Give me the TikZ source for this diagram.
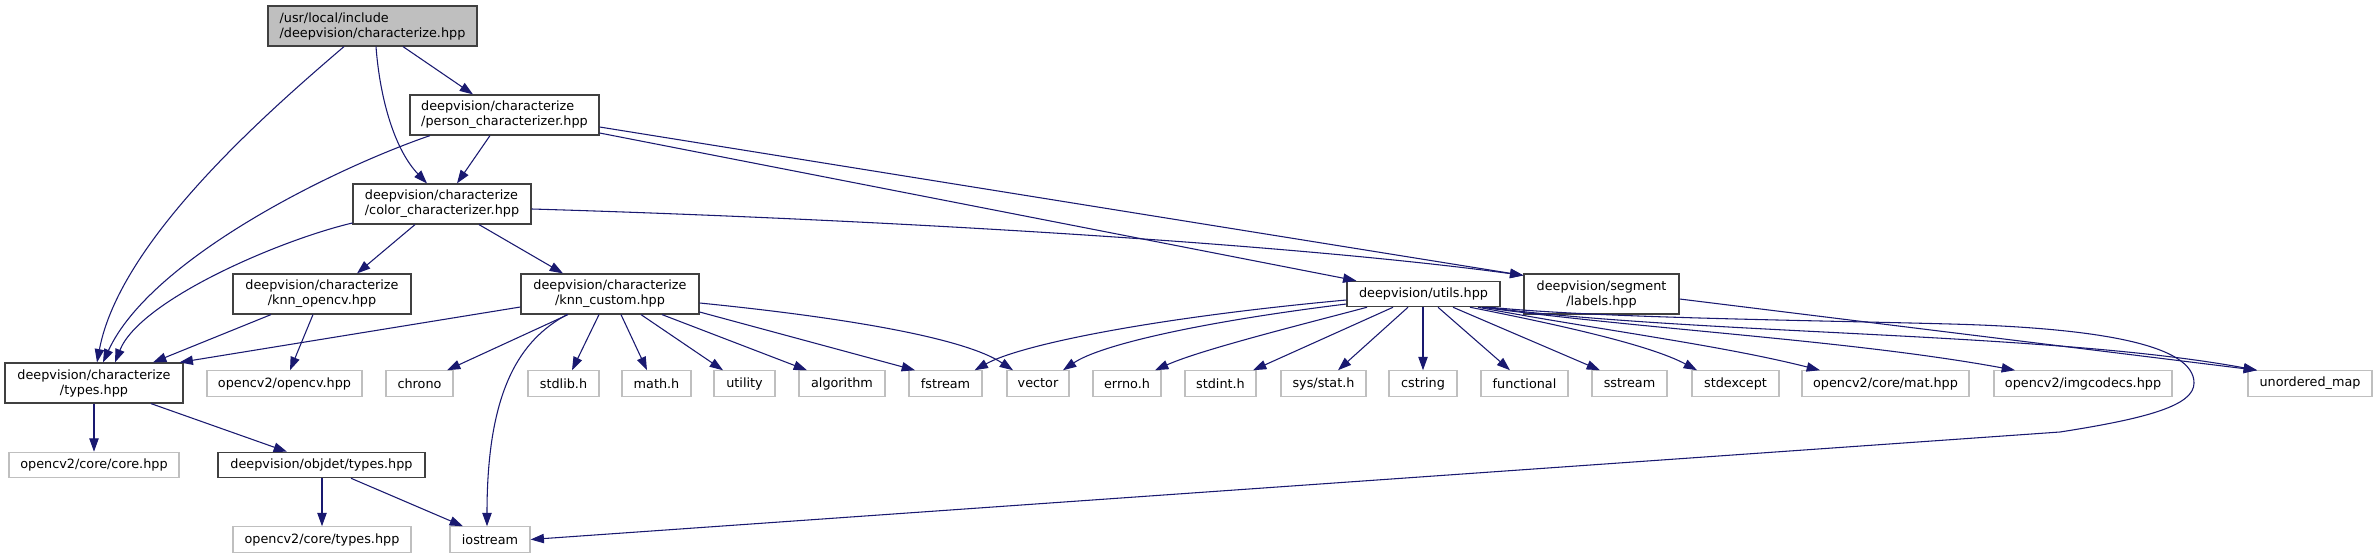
\documentclass[tikz,border=0pt]{standalone}
\usepackage{fontspec}
\setmainfont{DejaVu Sans}
\usetikzlibrary{arrows.meta,calc}
\definecolor{edgecol}{HTML}{191970}
\definecolor{docborder}{HTML}{404040}
\definecolor{extborder}{HTML}{BFBFBF}
\definecolor{rootfill}{HTML}{BFBFBF}
\tikzset{
  base/.style={rectangle, inner sep=0pt, line width=0.9pt, font=\fontsize{9.6}{11.25}\selectfont},
  doc/.style={base, draw=docborder, fill=white},
  ext/.style={base, draw=extborder, fill=white},
  rootn/.style={base, draw=docborder, fill=rootfill},
  tall/.style={minimum height=30pt},
  short/.style={minimum height=19pt},
  dep/.style={draw=edgecol, line width=0.8pt, -{Triangle[length=10pt,width=7pt]}}
}
\begin{document}
\begin{tikzpicture}[x=0.75pt,y=-0.75pt]
\useasboundingbox (0,0) rectangle (2377,559);
\fill[white] (0,0) rectangle (2377,559);
% documented nodes
\node[rootn,tall,minimum width=156.75pt,align=left] (root) at (372.5,26) {/usr/local/include\\/deepvision/characterize.hpp};
\node[doc,tall,minimum width=141.75pt,align=left] (person) at (504.5,115) {deepvision/characterize\\/person\_characterizer.hpp};
\node[doc,tall,minimum width=133.5pt,align=left] (color) at (442,204) {deepvision/characterize\\/color\_characterizer.hpp};
\node[doc,tall,minimum width=133.5pt,align=center] (knnocv) at (322,294) {deepvision/characterize\\/knn\_opencv.hpp};
\node[doc,tall,minimum width=133.5pt,align=center] (knncus) at (610,294) {deepvision/characterize\\/knn\_custom.hpp};
\node[doc,tall,minimum width=133.5pt,align=center] (types) at (94,383) {deepvision/characterize\\/types.hpp};
\node[doc,short,minimum width=114.75pt] (utils) at (1423.5,294) {deepvision/utils.hpp};
\node[doc,tall,minimum width=116.25pt,align=center] (labels) at (1601.5,294) {deepvision/segment\\/labels.hpp};
\node[doc,short,minimum width=155.25pt] (objdet) at (321.5,465) {deepvision/objdet/types.hpp};
% external nodes
\node[ext,short,minimum width=116.25pt] (opencv) at (284.5,383.5) {opencv2/opencv.hpp};
\node[ext,short,minimum width=50.25pt] (chrono) at (419.5,383.5) {chrono};
\node[ext,short,minimum width=53.25pt] (stdlib) at (563.5,383.5) {stdlib.h};
\node[ext,short,minimum width=51.75pt] (math) at (656.5,383.5) {math.h};
\node[ext,short,minimum width=45.75pt] (utility) at (744.5,383.5) {utility};
\node[ext,short,minimum width=64.5pt] (algorithm) at (842,383.5) {algorithm};
\node[ext,short,minimum width=54.75pt] (fstream) at (945.5,383.5) {fstream};
\node[ext,short,minimum width=46.5pt] (vector) at (1038,383.5) {vector};
\node[ext,short,minimum width=51pt] (errno) at (1127,383.5) {errno.h};
\node[ext,short,minimum width=53.25pt] (stdint) at (1220.5,383.5) {stdint.h};
\node[ext,short,minimum width=63.75pt] (sysstat) at (1323.5,383.5) {sys/stat.h};
\node[ext,short,minimum width=51pt] (cstring) at (1423,383.5) {cstring};
\node[ext,short,minimum width=65.25pt] (functional) at (1524.5,383.5) {functional};
\node[ext,short,minimum width=56.25pt] (sstream) at (1629.5,383.5) {sstream};
\node[ext,short,minimum width=65.25pt] (stdexcept) at (1735.5,383.5) {stdexcept};
\node[ext,short,minimum width=125.25pt] (mat) at (1885.5,383.5) {opencv2/core/mat.hpp};
\node[ext,short,minimum width=133.5pt] (imgcodecs) at (2083,383.5) {opencv2/imgcodecs.hpp};
\node[ext,short,minimum width=93pt] (umap) at (2310,383.5) {unordered\_map};
\node[ext,short,minimum width=127.5pt] (core) at (94,465) {opencv2/core/core.hpp};
\node[ext,short,minimum width=133.5pt] (coretypes) at (322,539.5) {opencv2/core/types.hpp};
\node[ext,short,minimum width=60pt] (iostream) at (490,539.5) {iostream};
% edges from root
\draw[dep] ($(root.south)+(-28.5,0)$) .. controls (270,110) and (120,240) .. ($(types.north)+(3,0)$);
\draw[dep] ($(root.south)+(3.5,0)$) .. controls (380,100) and (395,150) .. ($(color.north)+(-15,0)$);
\draw[dep] ($(root.south)+(30.5,0)$) -- ($(person.north)+(-31.5,0)$);
% edges from person
\draw[dep] ($(person.south)+(-74.5,0)$) .. controls (330,170) and (150,260) .. ($(types.north)+(9,0)$);
\draw[dep] ($(person.south)+(-14.5,0)$) -- ($(color.north)+(15,0)$);
\draw[dep] ($(person.east)+(0,12)$) -- ($(labels.north west)+(0,2)$);
\draw[dep] ($(person.east)+(0,18)$) -- ($(utils.north west)+(10,0)$);
% edges from color
\draw[dep] ($(color.west)+(0,19)$) .. controls (280,240) and (140,300) .. ($(types.north)+(21,0)$);
\draw[dep] ($(color.south)+(-27,0)$) -- ($(knnocv.north)+(35,0)$);
\draw[dep] ($(color.south)+(37,0)$) -- ($(knncus.north)+(-47,0)$);
\draw[dep] ($(color.east)+(0,5)$) .. controls (900,220) and (1300,245) .. ($(labels.north west)+(0,2)$);
% edges from knn_opencv
\draw[dep] ($(knnocv.south)+(-51,0)$) -- ($(types.north)+(59,0)$);
\draw[dep] ($(knnocv.south)+(-9,0)$) -- ($(opencv.north)+(5.5,0)$);
% edges from knn_custom
\draw[dep] ($(knncus.west)+(0,13)$) -- ($(types.north east)+(-4,0)$);
\draw[dep] ($(knncus.south)+(-42,0)$) -- ($(chrono.north)+(27.5,0)$);
\draw[dep] ($(knncus.south)+(-43,0)$) .. controls (520,340) and (487,390) .. ($(iostream.north)+(-3,0)$);
\draw[dep] ($(knncus.south)+(-11,0)$) -- ($(stdlib.north)+(8.5,0)$);
\draw[dep] ($(knncus.south)+(11,0)$) -- ($(math.north)+(-9.5,0)$);
\draw[dep] ($(knncus.south)+(31,0)$) -- ($(utility.north)+(-21.5,0)$);
\draw[dep] ($(knncus.south)+(52,0)$) -- ($(algorithm.north)+(-35,0)$);
\draw[dep] ($(knncus.east)+(0,18)$) -- ($(fstream.north)+(-30.5,0)$);
\draw[dep] ($(knncus.east)+(0,9)$) .. controls (820,315) and (960,335) .. ($(vector.north)+(-25,0)$);
% edges from types
\draw[dep] (types.south) -- (core.north);
\draw[dep] ($(types.south)+(57,0)$) -- ($(objdet.north)+(-34.5,0)$);
\draw[dep] ($(objdet.south)+(0.5,0)$) -- (coretypes.north);
\draw[dep] ($(objdet.south)+(29.5,0)$) -- ($(iostream.north)+(-27,0)$);
% edges from utils
\draw[dep] ($(utils.west)+(0,6)$) .. controls (1150,318) and (1020,345) .. ($(fstream.north east)+(-8,0)$);
\draw[dep] ($(utils.west)+(0,10)$) .. controls (1200,322) and (1100,345) .. ($(vector.north)+(25,0)$);
\draw[dep] ($(utils.south)+(-56.5,0)$) .. controls (1300,325) and (1200,350) .. ($(errno.north)+(28,0)$);
\draw[dep] ($(utils.south)+(-30.5,0)$) -- ($(stdint.north)+(32.5,0)$);
\draw[dep] ($(utils.south)+(-15.5,0)$) -- ($(sysstat.north)+(14.5,0)$);
\draw[dep] ($(utils.south)+(-0.5,0)$) -- (cstring.north);
\draw[dep] ($(utils.south)+(14.5,0)$) -- ($(functional.north)+(-14.5,0)$);
\draw[dep] ($(utils.south)+(29.5,0)$) -- ($(sstream.north)+(-29.5,0)$);
\draw[dep] ($(utils.south)+(46.5,0)$) .. controls (1560,325) and (1650,345) .. ($(stdexcept.north)+(-38.5,0)$);
\draw[dep] ($(utils.south)+(54.5,0)$) .. controls (1600,330) and (1720,345) .. ($(mat.north)+(-65.5,0)$);
\draw[dep] ($(utils.south)+(58.5,0)$) .. controls (1650,330) and (1850,340) .. ($(imgcodecs.north)+(-68,0)$);
\draw[dep] ($(utils.south)+(62.5,0)$) .. controls (1700,335) and (2050,332) .. ($(umap.north)+(-53,0)$);
\draw[dep] ($(utils.south)+(66.5,0)$) .. controls (1600,318) and (1800,320) .. (1950,324) .. controls (2100,328) and (2194,345) .. (2194,383) .. controls (2194,405) and (2150,418) .. (2060,432) -- (iostream.east);
% edges from labels
\draw[dep] ($(labels.east)+(0,5)$) -- ($(umap.north)+(-53,0)$);
\end{tikzpicture}
\end{document}
